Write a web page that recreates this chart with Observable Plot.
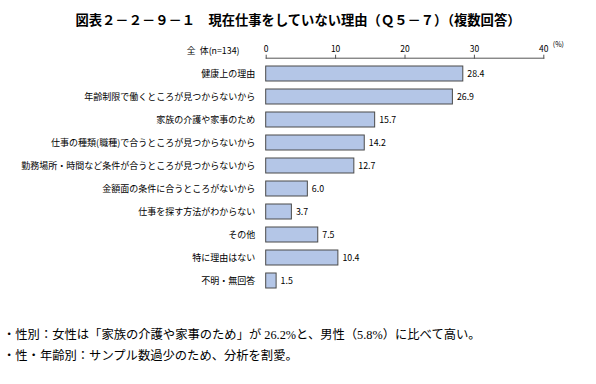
<!DOCTYPE html>
<html>
<head>
<meta charset="utf-8">
<script src="https://cdn.jsdelivr.net/npm/d3@7"></script>
<script src="https://cdn.jsdelivr.net/npm/@observablehq/plot@0.6"></script>
<style>
  html, body { margin: 0; padding: 0; background: #fff; }
  #wrap { position: relative; width: 596px; height: 384px; overflow: hidden; font-family: "Noto Sans CJK JP", sans-serif; color: #000; }
  #title { position: absolute; top: 11px; left: 0; width: 596px; text-align: center; font-size: 13.3px; line-height: 18px; font-weight: bold; white-space: nowrap; }
  #chart { position: absolute; top: 32px; left: 0; }
  .note { position: absolute; left: 3px; font-family: "Liberation Serif", "Noto Sans CJK JP", serif; font-size: 12.3px; line-height: 18px; white-space: nowrap; }
</style>
</head>
<body>
<div id="wrap">
  <div id="title">図表２－２－９－１　現在仕事をしていない理由（Ｑ５－７）（複数回答）</div>
  <div id="chart"></div>
  <div class="note" id="note1"></div>
  <div class="note" id="note2"></div>
</div>
<script>
const categories = [
  "健康上の理由",
  "年齢制限で働くところが見つからないから",
  "家族の介護や家事のため",
  "仕事の種類(職種)で合うところが見つからないから",
  "勤務場所・時間など条件が合うところが見つからないから",
  "金額面の条件に合うところがないから",
  "仕事を探す方法がわからない",
  "その他",
  "特に理由はない",
  "不明・無回答"
];
const values = [28.4, 26.9, 15.7, 14.2, 12.7, 6.0, 3.7, 7.5, 10.4, 1.5];
const xTicks = [0, 10, 20, 30, 40];
const groupLabel = "全\u2002体(n=134)";
const unitLabel = "(%)";
const notes = [
  "・性別：女性は「家族の介護や家事のため」が 26.2%と、男性（5.8%）に比べて高い。",
  "・性・年齢別：サンプル数過少のため、分析を割愛。"
];

const data = categories.map((c, i) => ({ category: c, value: values[i] }));

const mL = 265.7, mR = 52.7, mT = 25.7;
const chart = Plot.plot({
  width: 596,
  height: 296,
  marginLeft: mL,
  marginRight: mR,
  marginTop: mT,
  marginBottom: 0,
  style: { fontFamily: "'Noto Sans CJK JP', sans-serif", fontSize: "8.5px", color: "#000", background: "transparent" },
  x: { domain: [0, 40], axis: null },
  y: { domain: categories, range: [27.2, 262.8], padding: 0, axis: null },
  marks: [
    Plot.barX(data, {
      y: "category", x: "value",
      fill: "#b4c6e7", stroke: "#4a4a4a", strokeWidth: 1,
      insetTop: 4, insetBottom: 4
    }),
    Plot.text(data, {
      y: "category", x: "value",
      text: d => d.value.toFixed(1),
      textAnchor: "start", dx: 4, fontSize: 8.8, fill: "#000"
    }),
    Plot.axisY({
      anchor: "left", tickSize: 0, tickPadding: 11, fontSize: 9, label: null
    }),
    Plot.axisX({
      anchor: "top", ticks: xTicks, tickSize: 4, tickPadding: 2, fontSize: 8.5, label: null, stroke: "#555"
    }),
    Plot.frame({ anchor: "top", stroke: "#555", strokeWidth: 1 }),
    Plot.text([groupLabel], {
      frameAnchor: "top-left", text: d => d, textAnchor: "end",
      dx: 239 - mL, dy: 15 - mT, fontSize: 8.8
    }),
    Plot.text([unitLabel], {
      frameAnchor: "top-right", text: d => d, textAnchor: "start",
      dx: 9, dy: 10 - mT, fontSize: 7
    })
  ]
});
document.getElementById("chart").appendChild(chart);

const n1 = document.getElementById("note1");
const n2 = document.getElementById("note2");
n1.textContent = notes[0];
n2.textContent = notes[1];
n1.style.top = "326px";
n2.style.top = "347px";
</script>
</body>
</html>
